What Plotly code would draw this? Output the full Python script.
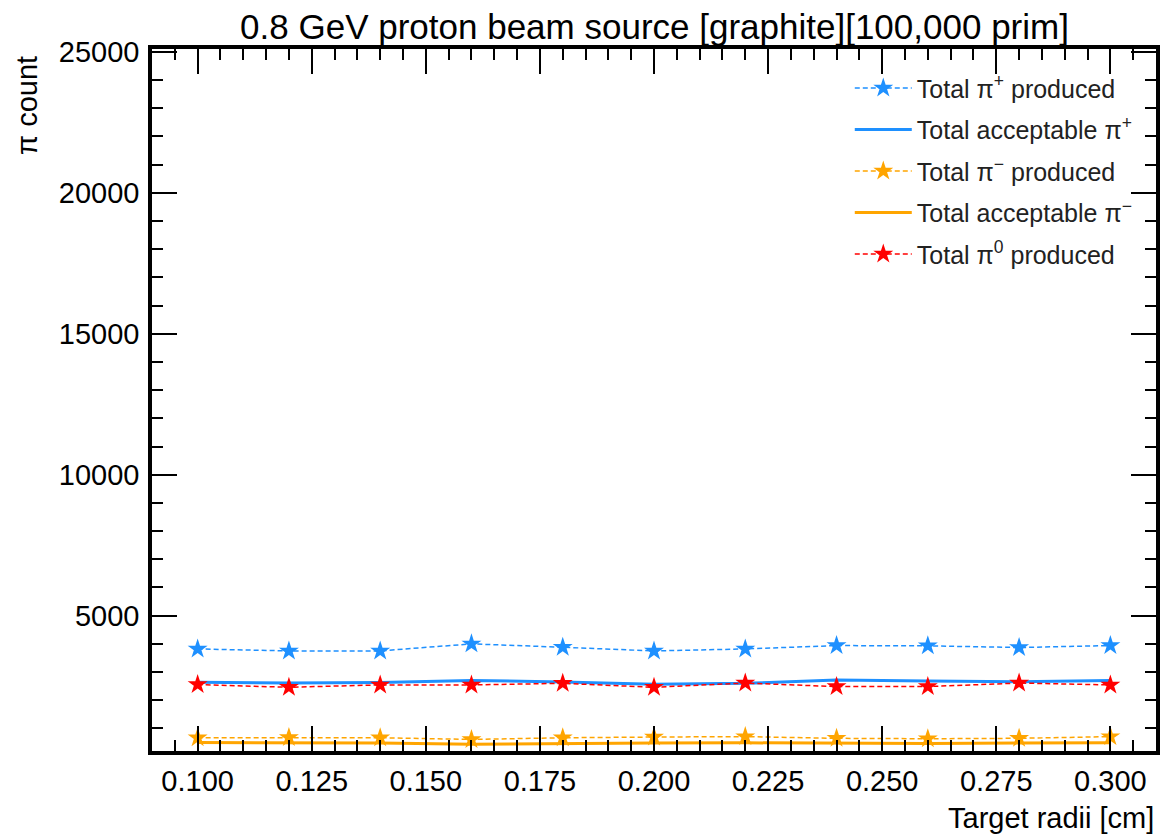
import plotly.graph_objects as go

radii = [0.10, 0.12, 0.14, 0.16, 0.18, 0.20, 0.22, 0.24, 0.26, 0.28, 0.30]
pip_produced = [3820, 3750, 3750, 4000, 3880, 3750, 3820, 3940, 3930, 3870, 3940]
pip_accept = [2640, 2610, 2630, 2700, 2650, 2570, 2600, 2720, 2680, 2660, 2700]
pim_produced = [670, 680, 670, 610, 670, 695, 710, 650, 635, 650, 710]
pim_accept = [500, 490, 480, 440, 470, 480, 490, 470, 470, 480, 490]
pi0_produced = [2555, 2460, 2545, 2545, 2600, 2460, 2610, 2485, 2485, 2610, 2545]

BLUE = "#1E90FF"
ORANGE = "#FFA500"
RED = "#FF0000"
FONT = "Liberation Sans, Arial, sans-serif"

fig = go.Figure()
fig.add_trace(go.Scatter(x=radii, y=pip_produced, mode="lines+markers",
                         name="Total π<sup>+</sup> produced", legendgroup="a",
                         line=dict(color=BLUE, width=1.5, dash="5px,3px"),
                         marker=dict(symbol="star", size=15, color=BLUE)))
fig.add_trace(go.Scatter(x=radii, y=pip_accept, mode="lines",
                         name="Total acceptable π<sup>+</sup>", legendgroup="b",
                         line=dict(color=BLUE, width=3)))
fig.add_trace(go.Scatter(x=radii, y=pim_produced, mode="lines+markers",
                         name="Total π<sup>−</sup> produced", legendgroup="c",
                         line=dict(color=ORANGE, width=1.5, dash="5px,3px"),
                         marker=dict(symbol="star", size=15, color=ORANGE)))
fig.add_trace(go.Scatter(x=radii, y=pim_accept, mode="lines",
                         name="Total acceptable π<sup>−</sup>", legendgroup="d",
                         line=dict(color=ORANGE, width=3)))
fig.add_trace(go.Scatter(x=radii, y=pi0_produced, mode="lines+markers",
                         name="Total π<sup>0</sup> produced", legendgroup="e",
                         line=dict(color=RED, width=1.5, dash="5px,3px"),
                         marker=dict(symbol="star", size=15, color=RED)))

axis_common = dict(
    showline=True, linecolor="black", linewidth=3.5, mirror="allticks",
    ticks="inside", ticklen=25, tickwidth=2, tickcolor="black",
    showgrid=False, zeroline=False,
    tickfont=dict(family=FONT, size=29, color="black"),
)

fig.update_xaxes(range=[0.09, 0.31], tick0=0.1, dtick=0.025, tickformat=".3f",
                 minor=dict(ticks="inside", ticklen=11, tickwidth=1.5,
                            tickcolor="black", dtick=0.005, tick0=0.1),
                 ticklabelstandoff=1, **axis_common)
fig.update_yaxes(range=[200, 25100], tick0=0, dtick=5000, tickformat="d",
                 minor=dict(ticks="inside", ticklen=11, tickwidth=1.5,
                            tickcolor="black", dtick=1000, tick0=0),
                 ticklabelstandoff=3, **axis_common)

fig.update_layout(
    width=1160, height=835,
    margin=dict(l=152, r=4, t=49, b=84, autoexpand=False),
    paper_bgcolor="white", plot_bgcolor="white",
    font=dict(family=FONT, color="black"),
    title=dict(text="0.8 GeV proton beam source [graphite][100,000 prim]",
               x=(152 + 1157) / 2 / 1160, xanchor="center",
               y=1 - 27 / 835, yanchor="middle",
               font=dict(family=FONT, size=35, color="black")),
    legend=dict(x=0.695, y=0.977, xanchor="left", yanchor="top",
                bgcolor="rgba(0,0,0,0)", borderwidth=0,
                font=dict(family=FONT, size=25, color="#222"),
                tracegroupgap=6, itemwidth=57),
    showlegend=True,
    annotations=[
        dict(text="π count", xref="paper", yref="paper",
             x=-0.124, y=0.993, xanchor="center", yanchor="top",
             textangle=-90, showarrow=False,
             font=dict(family=FONT, size=29, color="black")),
        dict(text="Target radii [cm]", xref="paper", yref="paper",
             x=1.0, y=-0.095, xanchor="right", yanchor="middle",
             showarrow=False,
             font=dict(family=FONT, size=29, color="black")),
    ],
)

fig.write_html("out.html", config={"displayModeBar": False},
               post_script="document.body.style.margin='0';document.body.style.padding='0';")
